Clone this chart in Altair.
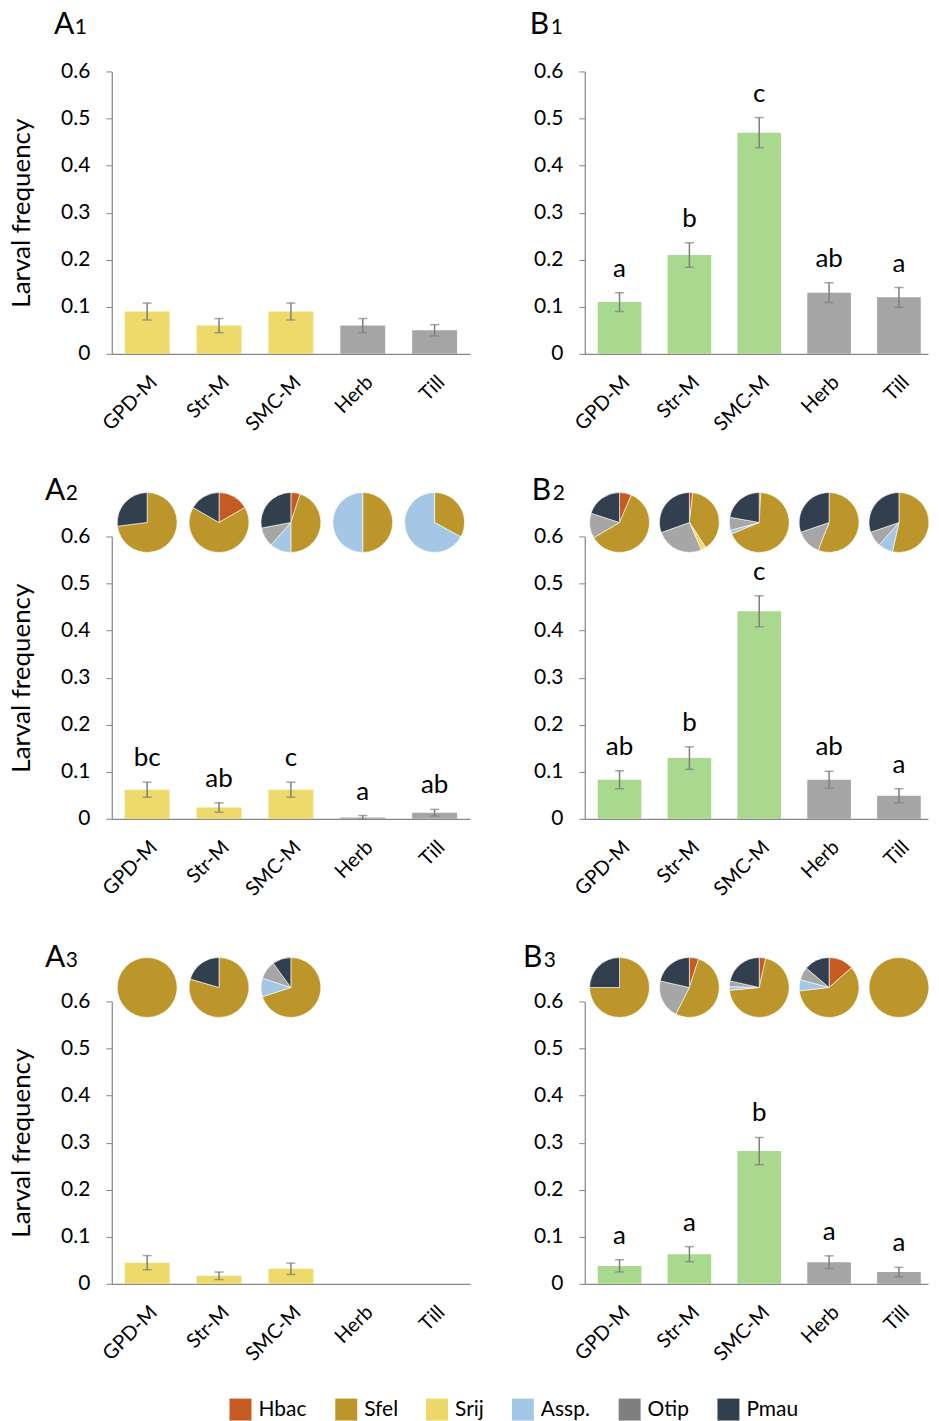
import altair as alt
import pandas as pd

TREAT = ["GPD-M", "Str-M", "SMC-M", "Herb", "Till"]
KIND = ["mulch", "mulch", "mulch", "conv", "conv"]
SPECIES = ["Hbac", "Sfel", "Srij", "Assp.", "Otip", "Pmau"]
PIE_COLORS = ["#C55A22", "#BC962A", "#EDD96A", "#A3C7E5", "#A6A6A6", "#323F4F"]
LEGEND_COLORS = ["#C55A22", "#BC962A", "#EDD96A", "#A3C7E5", "#7F7F7F", "#323F4F"]

YELLOW = "#EDDA6B"
GREEN = "#A9D98E"
GREY = "#A5A5A5"
ECOL = "#7F7F7F"
AXCOL = "#868686"

# Bar values (larval frequency) and standard errors
A1_VAL = [0.09, 0.06, 0.09, 0.06, 0.05]
A1_ERR = [0.018, 0.015, 0.018, 0.015, 0.012]
A1_LET = ["", "", "", "", ""]

B1_VAL = [0.11, 0.21, 0.47, 0.13, 0.12]
B1_ERR = [0.02, 0.026, 0.032, 0.021, 0.021]
B1_LET = ["a", "b", "c", "ab", "a"]

A2_VAL = [0.062, 0.024, 0.062, 0.003, 0.013]
A2_ERR = [0.016, 0.010, 0.016, 0.004, 0.007]
A2_LET = ["bc", "ab", "c", "a", "ab"]

B2_VAL = [0.083, 0.129, 0.441, 0.083, 0.049]
B2_ERR = [0.019, 0.024, 0.033, 0.018, 0.015]
B2_LET = ["ab", "b", "c", "ab", "a"]

A3_VAL = [0.045, 0.017, 0.032, 0.0, 0.0]
A3_ERR = [0.015, 0.008, 0.012, 0.0, 0.0]
A3_LET = ["", "", "", "", ""]

B3_VAL = [0.038, 0.063, 0.282, 0.046, 0.025]
B3_ERR = [0.013, 0.016, 0.029, 0.0135, 0.010]
B3_LET = ["a", "a", "b", "a", "a"]

# Species composition (Hbac, Sfel, Srij, Assp., Otip, Pmau) per treatment
A2_PIE = {
    "GPD-M": [0, 0.73, 0, 0, 0, 0.27],
    "Str-M": [0.167, 0.666, 0, 0, 0, 0.167],
    "SMC-M": [0.05, 0.45, 0, 0.115, 0.105, 0.28],
    "Herb": [0, 0.5, 0, 0.5, 0, 0],
    "Till": [0, 0.33, 0, 0.67, 0, 0],
}
B2_PIE = {
    "GPD-M": [0.065, 0.6, 0, 0, 0.135, 0.2],
    "Str-M": [0.018, 0.39, 0.027, 0, 0.26, 0.305],
    "SMC-M": [0.008, 0.68, 0, 0.02, 0.07, 0.222],
    "Herb": [0, 0.56, 0, 0, 0.137, 0.303],
    "Till": [0, 0.535, 0, 0.08, 0.082, 0.303],
}
A3_PIE = {
    "GPD-M": [0, 1.0, 0, 0, 0, 0],
    "Str-M": [0, 0.795, 0, 0, 0, 0.205],
    "SMC-M": [0, 0.70, 0, 0.10, 0.10, 0.10],
}
B3_PIE = {
    "GPD-M": [0, 0.75, 0, 0, 0, 0.25],
    "Str-M": [0.05, 0.525, 0, 0, 0.21, 0.215],
    "SMC-M": [0.035, 0.70, 0, 0.02, 0.03, 0.215],
    "Herb": [0.135, 0.597, 0, 0.06, 0.07, 0.138],
    "Till": [0, 1.0, 0, 0, 0, 0],
}

H = 283
WA = 359
WB = 344
SCALE_A = alt.Scale(paddingInner=0.375, paddingOuter=0.18, align=0.5)
SCALE_B = alt.Scale(paddingInner=0.375, paddingOuter=0.1446, align=0.642)


def panel(vals, errs, lets, color, pies, letter, num, lab_x, lab_y, show_title, width, xscale):
    df = pd.DataFrame({"treat": TREAT, "val": vals, "err": errs, "letter": lets, "kind": KIND})
    xaxis = alt.Axis(labelAngle=315, labelAlign="right", labelBaseline="top", labelPadding=18,
                     labelFontSize=20, labelColor="black", ticks=False, domainColor=AXCOL,
                     domainWidth=1.2, labelOverlap=False)
    X = alt.X("treat:N", sort=TREAT, scale=xscale, axis=xaxis, title=None)
    yaxis = alt.Axis(values=[0, 0.1, 0.2, 0.3, 0.4, 0.5, 0.6], format="~g", grid=False,
                     labelFontSize=21, labelColor="black", tickColor=AXCOL, tickSize=6,
                     domainColor=AXCOL, domainWidth=1.2, labelPadding=16,
                     title="Larval frequency" if show_title else None,
                     titleFontSize=26, titleFontWeight="normal", titleColor="black", titlePadding=26)
    base = alt.Chart(df)
    bars = base.mark_bar().encode(
        x=X,
        y=alt.Y("val:Q", scale=alt.Scale(domain=[0, 0.6]), axis=yaxis),
        color=alt.condition("datum.kind == 'mulch'", alt.value(color), alt.value(GREY)),
    )
    err = base.transform_filter("datum.err > 0").transform_calculate(
        lo="datum.val - datum.err", hi="datum.val + datum.err")
    stem = err.mark_rule(color=ECOL, strokeWidth=1.5).encode(x=X, y="lo:Q", y2="hi:Q")
    cap_lo = err.mark_tick(color=ECOL, size=9, thickness=1.5).encode(x=X, y="lo:Q")
    cap_hi = err.mark_tick(color=ECOL, size=9, thickness=1.5).encode(x=X, y="hi:Q")
    txt = err.transform_filter("datum.letter != ''").mark_text(
        fontSize=26, dy=-16, baseline="alphabetic", color="black").encode(
        x=X, y="hi:Q", text="letter:N")
    lab_df = pd.DataFrame({"a": [letter], "n": [num]})
    lab1 = alt.Chart(lab_df).mark_text(fontSize=30, align="left", baseline="alphabetic",
                                       color="black").encode(
        text="a:N", x=alt.value(lab_x), y=alt.value(lab_y))
    lab2 = alt.Chart(lab_df).mark_text(fontSize=21, align="left", baseline="alphabetic",
                                       color="black").encode(
        text="n:N", x=alt.value(lab_x + 21), y=alt.value(lab_y))
    layers = [bars, stem, cap_lo, cap_hi, txt, lab1, lab2]
    if pies:
        rows = []
        for t, fr in pies.items():
            for i, (s, f) in enumerate(zip(SPECIES, fr)):
                if f > 0:
                    rows.append({"treat": t, "sp": s, "frac": f, "ord": i})
        pdf = pd.DataFrame(rows)
        pie = alt.Chart(pdf).transform_stack(
            stack="frac", groupby=["treat"], as_=["t0", "t1"], sort=[alt.SortField("ord")]
        ).mark_arc(radius=30, stroke="white", strokeWidth=0.6).encode(
            x=X,
            y=alt.value(-14),
            theta=alt.Theta("t0:Q", scale=alt.Scale(domain=[0, 1])),
            theta2="t1:Q",
            color=alt.Color("sp:N", scale=alt.Scale(domain=SPECIES, range=PIE_COLORS), legend=None),
        )
        layers.append(pie)
    return alt.layer(*layers).properties(width=width, height=H)


pA1 = panel(A1_VAL, A1_ERR, A1_LET, YELLOW, None, "A", "1", -58, -38, True, WA, SCALE_A)
pB1 = panel(B1_VAL, B1_ERR, B1_LET, GREEN, None, "B", "1", -55, -38, False, WB, SCALE_B)
pA2 = panel(A2_VAL, A2_ERR, A2_LET, YELLOW, A2_PIE, "A", "2", -67, -37, True, WA, SCALE_A)
pB2 = panel(B2_VAL, B2_ERR, B2_LET, GREEN, B2_PIE, "B", "2", -53, -37, False, WB, SCALE_B)
pA3 = panel(A3_VAL, A3_ERR, A3_LET, YELLOW, A3_PIE, "A", "3", -67, -35, True, WA, SCALE_A)
pB3 = panel(B3_VAL, B3_ERR, B3_LET, GREEN, B3_PIE, "B", "3", -62, -35, False, WB, SCALE_B)

legend_chart = alt.Chart(pd.DataFrame({"sp": SPECIES})).transform_filter("false").mark_square(
    opacity=1).encode(
    color=alt.Color("sp:N", scale=alt.Scale(domain=SPECIES, range=LEGEND_COLORS),
                    legend=alt.Legend(title=None, orient="none", legendX=118, legendY=-68,
                                      direction="horizontal", symbolType="square", symbolSize=484,
                                      symbolStrokeWidth=0, symbolOpacity=1, labelFontSize=21,
                                      labelOffset=7, columnPadding=28, labelColor="black"))
).properties(width=WA, height=10)

chart = alt.concat(pA1, pB1, pA2, pB2, pA3, pB3, legend_chart, columns=2,
                   spacing={"row": 183, "column": 115}, bounds="flush").resolve_scale(
    color="independent"
).configure(font="Lato", padding=0).configure_view(stroke=None)

chart.save("out.html", embed_options={"renderer": "svg", "actions": False})
